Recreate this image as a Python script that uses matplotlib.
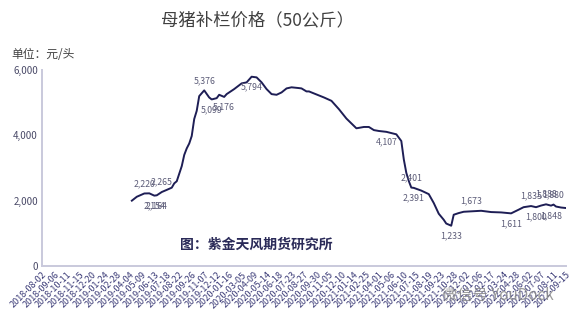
import matplotlib
matplotlib.use("Agg")
import matplotlib.pyplot as plt
from matplotlib.ticker import FuncFormatter

plt.rcParams['font.family'] = ['Noto Sans CJK SC', 'DejaVu Sans']

# Weekly category axis: one label every 5 weeks
tick_labels = [
    "2018-08-02", "2018-09-06", "2018-10-11", "2018-11-15", "2018-12-20",
    "2019-01-24", "2019-02-28", "2019-04-04", "2019-05-09", "2019-06-13",
    "2019-07-18", "2019-08-22", "2019-09-26", "2019-11-07", "2019-12-12",
    "2020-01-16", "2020-03-05", "2020-04-09", "2020-05-14", "2020-06-18",
    "2020-07-23", "2020-08-27", "2020-09-30", "2020-11-05", "2020-12-10",
    "2021-01-14", "2021-02-25", "2021-04-01", "2021-05-06", "2021-06-10",
    "2021-07-15", "2021-08-19", "2021-09-23", "2021-10-28", "2021-12-02",
    "2022-01-06", "2022-02-17", "2022-03-24", "2022-04-28", "2022-06-02",
    "2022-07-07", "2022-08-11", "2022-09-15",
]
tick_step = 5

# Week index (position on the category axis) and sow price, yuan per head
week = [36, 38, 41, 43, 45, 46, 48, 50, 52, 53, 54, 56, 57, 58, 59, 60, 61, 62,
        63, 65, 67, 68, 70, 71, 73, 74, 77, 80, 82, 84, 86, 88, 90, 92, 94,
        96, 98, 100, 103, 104, 106, 107, 109, 113, 116, 119, 122, 126, 129,
        131, 133, 135, 138, 142, 144, 145, 146, 147, 148, 149, 152, 155, 157,
        159, 161, 162, 164, 165, 167, 169, 172, 176, 180, 184, 188, 191, 193,
        196, 198, 200, 202, 204, 205, 206, 208, 210]
price = [2000, 2120, 2220, 2224, 2154, 2164, 2265, 2330, 2398, 2530, 2595,
         3056, 3400, 3600, 3750, 3979, 4500, 4750, 5200, 5376, 5159, 5099,
         5138, 5241, 5176, 5262, 5415, 5590, 5621, 5794, 5774, 5621, 5415,
         5262, 5241, 5313, 5436, 5470, 5446, 5436, 5344, 5344, 5282, 5159,
         5056, 4800, 4513, 4215, 4256, 4256, 4160, 4133, 4107, 4031, 3825,
         3262, 2852, 2600, 2401, 2391, 2308, 2200, 1928, 1600, 1415, 1300,
         1233, 1569, 1620, 1660, 1673, 1690, 1651, 1640, 1611, 1723, 1800,
         1835, 1800, 1850, 1888, 1848, 1880, 1820, 1790, 1774]

# Labelled points: (week index, placement)
labels_week = [41, 45, 46, 48, 65, 68, 73, 84, 138, 148, 149, 164, 172, 188,
               196, 198, 202, 204, 205]
labels_pos = ["up", "down", "down", "up", "up", "down", "down", "down", "down",
              "up", "down", "down", "up", "down", "up", "down", "up", "down",
              "up"]

line_color = "#1e1e55"
axis_color = "#c9c9dc"
text_color = "#4a4a68"

fig = plt.figure(figsize=(5.82, 3.23), dpi=100)
ax = fig.add_axes([0.0722, 0.1765, 0.9003, 0.6068])

ax.plot(week, price, color=line_color, lw=1.4, solid_joinstyle="round")

lookup = dict(zip(week, price))
for w, pos in zip(labels_week, labels_pos):
    v = lookup[w]
    dy = 4 if pos == "up" else -4
    va = "bottom" if pos == "up" else "top"
    ax.annotate(f"{v:,}", (w, v), xytext=(0, dy), textcoords="offset points",
                ha="center", va=va, fontsize=6.3, color="#5c5c78")

ax.set_xlim(0, (len(tick_labels) - 1) * tick_step)
ax.set_ylim(0, 6000)
ax.set_yticks([0, 2000, 4000, 6000])
ax.yaxis.set_major_formatter(FuncFormatter(lambda v, p: f"{int(v):,}"))
ax.set_xticks([i * tick_step for i in range(len(tick_labels))])
ax.set_xticklabels(tick_labels, rotation=45, ha="right", rotation_mode="anchor",
                   fontsize=6.5, color="#3c3c78")
ax.tick_params(axis="x", length=0, pad=3)
ax.tick_params(axis="y", length=0, pad=3, labelsize=7, labelcolor=text_color)

for side in ("top", "right"):
    ax.spines[side].set_visible(False)
for side in ("left", "bottom"):
    ax.spines[side].set_color(axis_color)
    ax.spines[side].set_linewidth(1.4)

fig.text(0.443, 0.938, "母猪补栏价格（50公斤）", ha="center", va="center",
         fontsize=12.5, color="#404040")
fig.text(0.02, 0.83, "单位：元/头", ha="left", va="center",
         fontsize=8.5, color="#404040")
fig.text(0.309, 0.2415, "图：紫金天风期货研究所", fontsize=10,
         fontweight="bold", color="#2a2a58", ha="left", va="center")
fig.text(0.76, 0.085, "微信号 YouDock", ha="left", va="center",
         fontsize=11, color="#8a8a8a", alpha=0.85)

fig.savefig("out.png", dpi=100)
